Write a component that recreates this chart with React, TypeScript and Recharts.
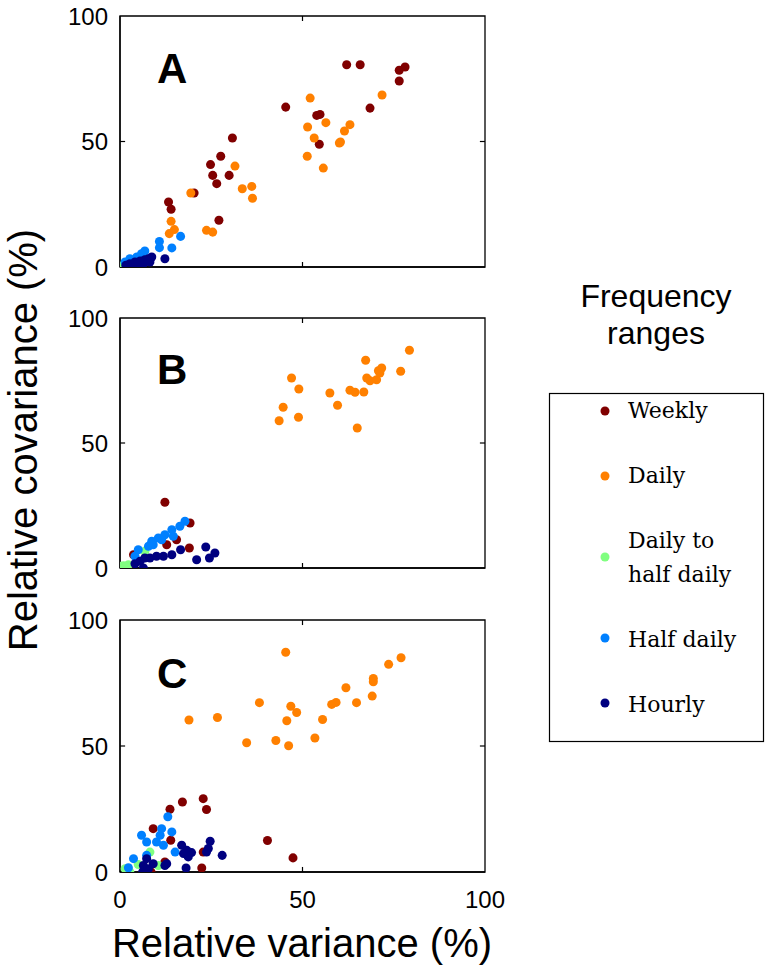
import React from "react";
import { ScatterChart, Scatter, XAxis, YAxis, ZAxis, ReferenceArea, ReferenceLine } from "recharts";

type Pt = [number, number];

const axisTicks = [0, 50, 100];
const seriesNames = ["Weekly", "Daily", "Daily to half daily", "Half daily", "Hourly"];
const seriesColors = ["#800000", "#ff8000", "#80ff80", "#0080ff", "#000080"];
const panelLetters = ["A", "B", "C"];

// Panel A
const weeklyA: Pt[] = [[62.1,80.6],[65.8,80.6],[76.5,78.4],[78.1,79.7],[76.5,74.1],[45.4,63.7],[68.5,63.3],[53.9,60.4],[54.8,60.8],[54.6,48.9],[30.8,51.4],[27.6,44.1],[24.8,40.8],[25.4,36.5],[26.5,33.2],[29.9,36.5],[20.3,29.5],[13.3,25.9],[14.0,23.0],[27.1,18.6]];
const dailyA: Pt[] = [[52.1,67.3],[71.8,68.5],[56.4,57.5],[51.4,55.8],[63.0,56.7],[61.5,54.2],[53.2,51.4],[60.1,49.4],[60.4,49.8],[51.3,44.1],[55.7,39.4],[31.5,40.2],[33.5,31.2],[36.1,32.1],[36.3,27.4],[19.4,29.5],[14.0,18.2],[13.5,13.3],[14.9,14.9],[23.7,14.6],[25.4,13.9]];
const greenA: Pt[] = [[1.0,0.8],[2.0,1.5]];
const halfA: Pt[] = [[16.6,12.2],[10.8,10.2],[10.8,7.7],[14.2,7.6],[6.8,6.4],[5.9,5.3],[4.6,4.0],[2.7,3.3],[1.4,2.0],[3.5,2.5]];
const hourlyA: Pt[] = [[12.3,3.3],[8.7,4.0],[7.8,3.3],[6.8,2.9],[5.5,2.4],[4.1,2.0],[2.7,1.3],[1.6,0.7],[8.2,2.0],[6.4,1.3],[5.0,0.9],[3.7,0.7]];

// Panel B
const weeklyB: Pt[] = [[12.3,26.3],[19.2,18.0],[15.5,11.3],[19.0,8.0],[12.8,9.3],[3.7,5.3],[2.7,0.0]];
const dailyB: Pt[] = [[79.3,87.1],[67.3,83.1],[47.0,76.0],[49.0,71.6],[71.7,80.0],[70.8,78.9],[71.2,78.0],[76.9,78.7],[67.6,76.0],[68.5,74.9],[70.3,75.3],[57.5,70.0],[63.0,71.1],[64.4,70.3],[66.8,70.4],[59.6,65.1],[44.7,64.3],[43.6,58.9],[48.9,60.3],[65.0,56.0]];
const greenB: Pt[] = [[0.9,0.9],[2.3,1.3],[0.0,0.7],[6.8,6.7]];
const halfB: Pt[] = [[17.8,18.7],[16.4,16.7],[14.2,15.3],[12.3,13.3],[10.5,12.0],[8.7,10.7],[7.8,8.7],[5.0,7.3],[4.1,4.7],[14.6,12.7],[11.4,11.3],[9.1,9.3]];
const hourlyB: Pt[] = [[23.5,8.4],[26.0,6.0],[24.5,4.0],[21.0,3.3],[16.6,7.3],[14.2,5.3],[11.9,4.7],[10.0,4.7],[8.2,4.0],[6.8,4.0],[5.5,2.7],[4.1,1.7],[6.4,0.0]];

// Panel C
const weeklyC: Pt[] = [[22.8,29.1],[23.7,24.8],[17.1,27.8],[13.7,24.9],[9.1,17.2],[40.4,12.5],[47.4,5.6],[22.4,1.6],[13.9,12.6],[12.3,4.0],[8.5,0.0],[22.8,7.9]];
const dailyC: Pt[] = [[45.4,87.2],[77.0,85.0],[73.6,82.4],[69.4,76.8],[69.4,75.5],[61.9,73.1],[69.1,69.8],[64.8,67.2],[58.0,66.5],[59.2,67.3],[55.5,60.5],[53.4,53.2],[38.2,67.2],[46.8,65.8],[48.4,63.3],[45.7,60.0],[42.7,52.2],[46.2,50.1],[34.7,51.3],[18.9,60.3],[26.7,61.3]];
const greenC: Pt[] = [[8.2,7.9],[10.5,2.6],[1.4,1.3],[2.7,0.0],[5.0,3.0]];
const halfC: Pt[] = [[13.1,21.9],[11.4,17.2],[14.2,15.9],[11.0,14.6],[5.9,14.6],[7.3,11.9],[10.0,11.9],[11.9,10.6],[15.1,7.9],[7.3,6.6],[3.7,5.3],[2.3,1.7]];
const hourlyC: Pt[] = [[24.7,12.2],[24.2,9.3],[23.7,7.9],[28.0,6.6],[16.9,10.6],[18.3,8.6],[19.6,7.7],[17.4,7.3],[18.7,6.0],[18.1,1.6],[12.8,3.3],[12.3,2.6],[7.3,5.3],[9.1,3.3],[6.4,2.6],[7.8,1.3],[6.2,0.0]];

const panelsData: Pt[][][] = [
  [weeklyA, dailyA, greenA, halfA, hourlyA],
  [weeklyB, dailyB, greenB, halfB, hourlyB],
  [weeklyC, dailyC, greenC, halfC, hourlyC],
];

const SANS = "'Liberation Sans', Arial, Helvetica, sans-serif";
const SERIF = "'DejaVu Serif', 'Liberation Serif', serif";

const toObjs = (pts: Pt[]) => pts.map(([x, y]) => ({ x, y }));

// inward tick length in data units (about 5 px)
const TICK_X = 2;
const TICK_Y = 1.4;

type PanelProps = { top: number; height: number; xHeight: number; showX: boolean; series: Pt[][] };

function Panel({ top, height, xHeight, showX, series }: PanelProps) {
  const tickStyle = { fill: "#000", fontSize: 24, fontFamily: SANS };
  const line = { stroke: "#000", strokeWidth: 1.3 };
  const mid = axisTicks.slice(1, -1);
  return (
    <div style={{ position: "absolute", left: 0, top }}>
      <ScatterChart width={530} height={height} margin={{ top: 16, right: 45, bottom: 0, left: 0 }}>
        <XAxis
          type="number" dataKey="x" domain={[0, 100]} ticks={axisTicks} height={xHeight}
          axisLine={line} tickLine={false} tickSize={0} tickMargin={19}
          tick={tickStyle} tickFormatter={(v: number) => (showX ? String(v) : "")}
          interval={0} allowDataOverflow
        />
        <YAxis
          type="number" dataKey="y" domain={[0, 100]} ticks={axisTicks} width={120}
          axisLine={line} tickLine={false} tickSize={0} tickMargin={12}
          tick={tickStyle} interval={0} allowDataOverflow
        />
        <ZAxis range={[95, 95]} />
        <ReferenceArea x1={0} x2={100} y1={0} y2={100} fill="none" stroke="#000" strokeWidth={1.3} />
        {mid.map((t) => (
          <ReferenceLine key={"xb" + t} segment={[{ x: t, y: 0 }, { x: t, y: TICK_X }]} stroke="#000" strokeWidth={1.2} />
        ))}
        {mid.map((t) => (
          <ReferenceLine key={"xt" + t} segment={[{ x: t, y: 100 }, { x: t, y: 100 - TICK_X }]} stroke="#000" strokeWidth={1.2} />
        ))}
        {mid.map((t) => (
          <ReferenceLine key={"yl" + t} segment={[{ x: 0, y: t }, { x: TICK_Y, y: t }]} stroke="#000" strokeWidth={1.2} />
        ))}
        {mid.map((t) => (
          <ReferenceLine key={"yr" + t} segment={[{ x: 100, y: t }, { x: 100 - TICK_Y, y: t }]} stroke="#000" strokeWidth={1.2} />
        ))}
        {series.map((pts, i) => (
          <Scatter
            key={seriesNames[i]} name={seriesNames[i]} data={toObjs(pts)}
            fill={seriesColors[i]} stroke="none" shape="circle" isAnimationActive={false}
          />
        ))}
      </ScatterChart>
    </div>
  );
}

const letterBaselines = [83, 384, 688];
const legendMarkerY = [411, 476, 557, 638, 703];
const legendLines: string[][] = [["Weekly"], ["Daily"], ["Daily to", "half daily"], ["Half daily"], ["Hourly"]];
const legendBaselines: number[][] = [[418], [483], [548, 582], [647], [712]];

export default function App() {
  return (
    <div style={{ position: "absolute", left: 0, top: 0, width: 772, height: 973, background: "#fff", overflow: "hidden" }}>
      <Panel top={0} height={300} xHeight={33} showX={false} series={panelsData[0]} />
      <Panel top={302} height={299} xHeight={33} showX={false} series={panelsData[1]} />
      <Panel top={604} height={316} xHeight={48} showX={true} series={panelsData[2]} />
      <svg width={772} height={973} style={{ position: "absolute", left: 0, top: 0, pointerEvents: "none" }}>
        {panelLetters.map((l, i) => (
          <text key={l} x={157} y={letterBaselines[i]} fontFamily={SANS} fontWeight="bold" fontSize={42} fill="#000">{l}</text>
        ))}
        <text x={302} y={957} textAnchor="middle" fontFamily={SANS} fontSize={40} fill="#000">Relative variance (%)</text>
        <text x={37} y={440} transform="rotate(-90 37 440)" textAnchor="middle" fontFamily={SANS} fontSize={40} fill="#000">Relative covariance (%)</text>
        <text x={656} y={307} textAnchor="middle" fontFamily={SANS} fontSize={32} fill="#000">Frequency</text>
        <text x={656} y={344} textAnchor="middle" fontFamily={SANS} fontSize={32} fill="#000">ranges</text>
        <rect x={549.5} y={393.5} width={214} height={348} fill="none" stroke="#000" strokeWidth={1.2} />
        {seriesNames.map((n, i) => (
          <g key={n}>
            <circle cx={605} cy={legendMarkerY[i]} r={4.5} fill={seriesColors[i]} />
            {legendLines[i].map((ln, j) => (
              <text key={ln} x={628} y={legendBaselines[i][j]} fontFamily={SERIF} fontSize={22} fill="#000">{ln}</text>
            ))}
          </g>
        ))}
      </svg>
    </div>
  );
}
